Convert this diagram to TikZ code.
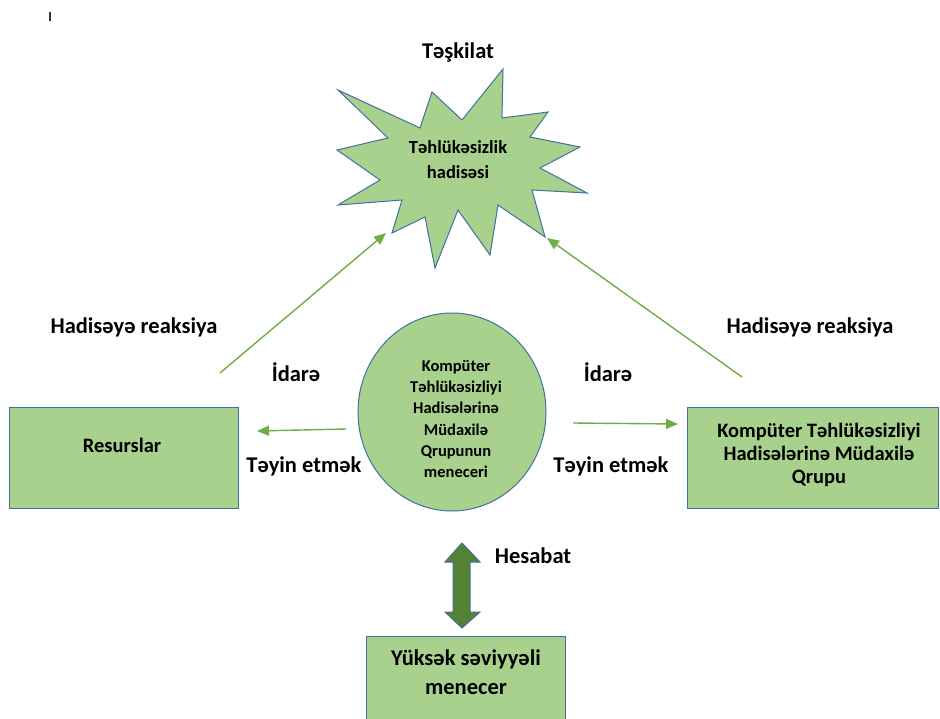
\documentclass[tikz,border=0pt]{standalone}
\usepackage{fontspec}
\setmainfont{Carlito}
\usetikzlibrary{shapes.geometric,arrows.meta}
\definecolor{leaf}{HTML}{A9D18E}
\definecolor{rim}{HTML}{41719C}
\definecolor{flow}{HTML}{70AD47}
\definecolor{forest}{HTML}{548235}
\tikzset{
  shapefill/.style={fill=leaf,draw=rim,line width=1pt},
  boxtext/.style={align=center,inner sep=0pt,font=\fontsize{20.5}{23}\selectfont\bfseries},
  labeltext/.style={inner sep=0pt,font=\fontsize{22.5}{26}\selectfont\bfseries},
  flowarrow/.style={draw=flow,line width=1.4pt,-{Triangle[length=12pt,width=10pt]}},
}
\begin{document}
\begin{tikzpicture}[x=1pt,y=-1pt]
\useasboundingbox (0,0) rectangle (940,718);
\fill[white] (0,0) rectangle (940,718);

% stray cursor mark in the corner
\draw[line width=1.6pt,black!80] (50,12) -- (50,21);

% incident burst
\path[shapefill,line join=miter]
  (338,90) -- (420,128) -- (432,92) -- (462,120) -- (503,69) -- (502,118)
  -- (548,112) -- (530,137) -- (580,147) -- (540,168) -- (587,193)
  -- (532,190) -- (545,237) -- (498,205) -- (490,255) -- (458,210)
  -- (435,268) -- (425,217) -- (392,233) -- (402,200) -- (338,205)
  -- (380,180) -- (337,150) -- (388,138) -- cycle;
\node[boxtext,font=\fontsize{18.5}{25}\selectfont\bfseries] (incident) at (458,160) {Təhlükəsizlik\\hadisəsi};
\node[labeltext] (org) at (458,52) {Təşkilat};

% manager circle
\node[shapefill,ellipse,minimum width=188pt,minimum height=198pt,inner sep=0pt] (mgrshape) at (452,412) {};
\node[boxtext,font=\fontsize{16.5}{21.3}\selectfont\bfseries] (mgr) at (456,419)
  {Kompüter\\Təhlükəsizliyi\\Hadisələrinə\\Müdaxilə\\Qrupunun\\meneceri};

% side boxes
\node[shapefill,rectangle,minimum width=229pt,minimum height=101pt,inner sep=0pt] (resbox) at (123.5,457.5) {};
\node[boxtext] (res) at (122,445) {Resurslar};
\node[shapefill,rectangle,minimum width=251pt,minimum height=101pt,inner sep=0pt] (teambox) at (812.5,457.5) {};
\node[boxtext] (team) at (819,455) {Kompüter Təhlükəsizliyi\\Hadisələrinə Müdaxilə\\Qrupu};

% senior manager box, running off the lower edge
\begin{scope}
\clip (0,0) rectangle (940,718);
\node[shapefill,rectangle,minimum width=199pt,minimum height=90pt,inner sep=0pt] (seniorbox) at (465.5,681) {};
\end{scope}
\node[boxtext,font=\fontsize{22.5}{29}\selectfont\bfseries] (senior) at (466,672.5) {Yüksək səviyyəli\\menecer};

% report arrow
\path[fill=forest,draw=rim,line width=1pt,line join=miter]
  (462,543) -- (480,562) -- (470,562) -- (470,612) -- (480,612) -- (462,628)
  -- (445,612) -- (453,612) -- (453,562) -- (445,562) -- cycle;
\node[labeltext] (report) at (533,556) {Hesabat};

% connector ends
\coordinate (resup) at (220,373);
\coordinate (burstL) at (386,233);
\coordinate (teamup) at (742,377);
\coordinate (burstR) at (547,238);
\coordinate (mgrL) at (346,429);
\coordinate (resR) at (257,431);
\coordinate (mgrR) at (573,423);
\coordinate (teamL) at (678,424);

\draw[flowarrow] (resup) -- (burstL);
\draw[flowarrow] (teamup) -- (burstR);
\draw[flowarrow] (mgrL) -- (resR);
\draw[flowarrow] (mgrR) -- (teamL);

% labels
\node[labeltext] (reactL) at (134,327) {Hadisəyə reaksiya};
\node[labeltext] (reactR) at (810,327) {Hadisəyə reaksiya};
\node[labeltext] (manageL) at (296,372) {İdarə};
\node[labeltext] (manageR) at (608,372) {İdarə};
\node[labeltext] (assignL) at (304,466) {Təyin etmək};
\node[labeltext] (assignR) at (611,466) {Təyin etmək};
\end{tikzpicture}
\end{document}
